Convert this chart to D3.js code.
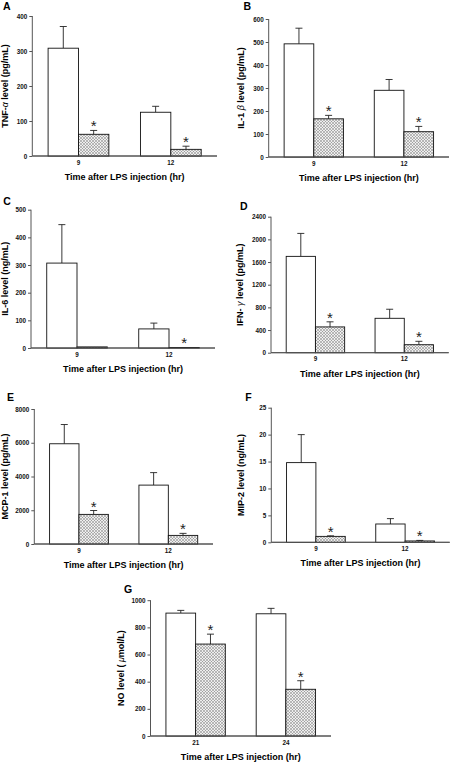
<!DOCTYPE html>
<html><head><meta charset="utf-8">
<script src="https://cdn.jsdelivr.net/npm/d3@7"></script>
<style>
html,body{margin:0;padding:0;background:#fff;}
svg{display:block;}
text{font-family:"Liberation Sans",Arial,sans-serif;}
</style></head>
<body>
<script>
// ---------- data ----------
const panelLetters = ["A","B","C","D","E","F","G"];
const timesShort = ["9","12"];
const timesLong = ["21","24"];
const yLabels = ["TNF-","IL-1 ","IL-6 level (ng/mL)","IFN- ","MCP-1 level (pg/mL)","MIP-2 level (ng/mL)","NO level ( "];
const yGreek = ["\u03b1"," \u03b2",""," \u03b3","",""," \u03bc"];
const yTail = [" level (pg/mL)"," level (pg/mL)",""," level (pg/mL)","","","mol/L)"];
const yMax = [400, 600, 500, 2400, 8000, 25, 1000];
const yStep = [100, 100, 100, 400, 2000, 5, 200];

// control (open bars) and treated (hatched bars) means and SE
const tnfControl = [308, 125],   tnfControlSE = [62, 17];
const tnfTreated = [62, 19],     tnfTreatedSE = [11, 9];
const il1Control = [492, 290],   il1ControlSE = [68, 47];
const il1Treated = [166, 110],   il1TreatedSE = [15, 23];
const il6Control = [307, 69],    il6ControlSE = [139, 21];
const il6Treated = [4, 2],       il6TreatedSE = [0, 0];
const ifnControl = [1700, 607],  ifnControlSE = [405, 160];
const ifnTreated = [455, 141],   ifnTreatedSE = [90, 60];
const mcpControl = [5940, 3490], mcpControlSE = [1140, 740];
const mcpTreated = [1755, 510],  mcpTreatedSE = [230, 120];
const mipControl = [14.8, 3.4],  mipControlSE = [5.2, 1.0];
const mipTreated = [1.1, 0.25],  mipTreatedSE = [0.1, 0.1];
const noControl = [905, 900],    noControlSE = [20, 40];
const noTreated = [677, 344],    noTreatedSE = [73, 63];
const significant = [[true,true],[true,true],[false,true],[true,true],[true,true],[true,true],[true,true]];

const controls = [tnfControl, il1Control, il6Control, ifnControl, mcpControl, mipControl, noControl];
const controlSEs = [tnfControlSE, il1ControlSE, il6ControlSE, ifnControlSE, mcpControlSE, mipControlSE, noControlSE];
const treateds = [tnfTreated, il1Treated, il6Treated, ifnTreated, mcpTreated, mipTreated, noTreated];
const treatedSEs = [tnfTreatedSE, il1TreatedSE, il6TreatedSE, ifnTreatedSE, mcpTreatedSE, mipTreatedSE, noTreatedSE];
const xTitle = "Time after LPS injection (hr)";

// ---------- layout ----------
const layout = [
  {ax:32.3, y0:156,   yt:16,    xe:217,   lx:3,   ly:9.5,   tx:8},
  {ax:268.7,y0:157,   yt:19,    xe:449,   lx:243.5,ly:10.3, tx:244},
  {ax:31,   y0:348,   yt:209.7, xe:215,   lx:3.3, ly:205,   tx:8},
  {ax:271,  y0:352.7, yt:216.7, xe:448.7, lx:240, ly:209.5, tx:242.5},
  {ax:34.3, y0:544,   yt:409,   xe:213,   lx:7,   ly:400.8, tx:7.5},
  {ax:271.3,y0:542.3, yt:407.7, xe:449.7, lx:245.3,ly:400.8, tx:244},
  {ax:150.5,y0:736,   yt:600.2, xe:331,   lx:124, ly:593.4, tx:123.5}
];

const svg = d3.select("body").append("svg").attr("width",454).attr("height",762);
const defs = svg.append("defs");
const pat = defs.append("pattern").attr("id","hatch").attr("patternUnits","userSpaceOnUse")
  .attr("width",3).attr("height",3);
pat.append("rect").attr("width",3).attr("height",3).attr("fill","#eeeeee");
pat.append("path").attr("d","M0,0L3,3M3,0L0,3").attr("stroke","#808080").attr("stroke-width",0.5);

const axisColor = "#555";

panelLetters.forEach((letter, i) => {
  const L = layout[i];
  const g = svg.append("g");
  const cats = i === 6 ? timesLong : timesShort;
  const y = d3.scaleLinear().domain([0, yMax[i]]).range([L.y0, L.yt]);
  const x = d3.scaleBand().domain(cats).range([L.ax, L.xe]).paddingInner(0).paddingOuter(0);
  const sub = d3.scaleBand().domain(["ctrl","trt"]).range([0, x.bandwidth()]).paddingOuter(0.52).paddingInner(0);

  // panel letter
  g.append("text").attr("x", L.lx).attr("y", L.ly).text(letter)
    .attr("font-size", 10.5).attr("font-weight","bold");

  // y axis
  const ticks = d3.range(0, yMax[i] + yStep[i]/2, yStep[i]);
  const yAxis = d3.axisLeft(y).tickValues(ticks).tickSize(3).tickPadding(2).tickFormat(d3.format("d"));
  const ya = g.append("g").attr("transform", `translate(${L.ax},0)`).call(yAxis);
  ya.select(".domain").attr("stroke", axisColor).attr("d", `M0,${L.y0}V${L.yt}`);
  ya.selectAll(".tick line").attr("stroke", axisColor);
  ya.selectAll(".tick text").attr("font-size", 6.3).attr("font-weight","bold")
    .attr("font-family","Liberation Sans, Arial, sans-serif").attr("fill","#111");

  // x axis
  const xAxis = d3.axisBottom(x).tickSize(0).tickPadding(5);
  const xa = g.append("g").attr("transform", `translate(0,${L.y0})`).call(xAxis);
  xa.select(".domain").attr("stroke", axisColor).attr("d", `M${L.ax},0H${L.xe}`);
  xa.selectAll(".tick text").attr("font-size", 6.3).attr("font-weight","bold")
    .attr("font-family","Liberation Sans, Arial, sans-serif").attr("fill","#111")
    .attr("dy","0.6em");

  // bars
  cats.forEach((c, j) => {
    const groups = [
      {key:"ctrl", v:controls[i][j], se:controlSEs[i][j], fill:"#fff"},
      {key:"trt",  v:treateds[i][j], se:treatedSEs[i][j], fill:"url(#hatch)"}
    ];
    groups.forEach(gr => {
      const bx = x(c) + sub(gr.key);
      const bw = sub.bandwidth();
      const cx = bx + bw/2;
      // error bar
      if (gr.se > 0) {
        g.append("line").attr("x1",cx).attr("x2",cx).attr("y1",y(gr.v)).attr("y2",y(gr.v+gr.se))
          .attr("stroke","#222").attr("stroke-width",0.9);
        g.append("line").attr("x1",cx-3.5).attr("x2",cx+3.5).attr("y1",y(gr.v+gr.se)).attr("y2",y(gr.v+gr.se))
          .attr("stroke","#222").attr("stroke-width",0.9);
      }
      g.append("rect").attr("x",bx).attr("y",y(gr.v)).attr("width",bw).attr("height",L.y0 - y(gr.v))
        .attr("fill",gr.fill).attr("stroke","#111").attr("stroke-width",0.9);
      if (gr.key === "trt" && significant[i][j]) {
        g.append("text").attr("x",cx).attr("y",y(gr.v+gr.se) + 1).attr("text-anchor","middle")
          .attr("font-size",15).attr("font-family","DejaVu Sans, sans-serif").attr("fill","#222").text("*");
      }
    });
  });
  // redraw x domain over bars
  g.append("line").attr("x1",L.ax).attr("x2",L.xe).attr("y1",L.y0).attr("y2",L.y0).attr("stroke",axisColor);

  // x title
  g.append("text").attr("x", (L.ax + L.xe)/2).attr("y", L.y0 + 24).attr("text-anchor","middle")
    .attr("font-size", 9).attr("font-weight","bold").text(xTitle);

  // y title
  const yt = g.append("text").attr("transform", `translate(${L.tx},${(L.y0+L.yt)/2}) rotate(-90)`)
    .attr("text-anchor","middle").attr("font-size", 9).attr("font-weight","bold");
  yt.append("tspan").text(yLabels[i]);
  if (yGreek[i]) yt.append("tspan").attr("font-weight","normal").attr("font-style","italic").text(yGreek[i]);
  if (yTail[i]) yt.append("tspan").text(yTail[i]);
});
</script>
</body></html>
